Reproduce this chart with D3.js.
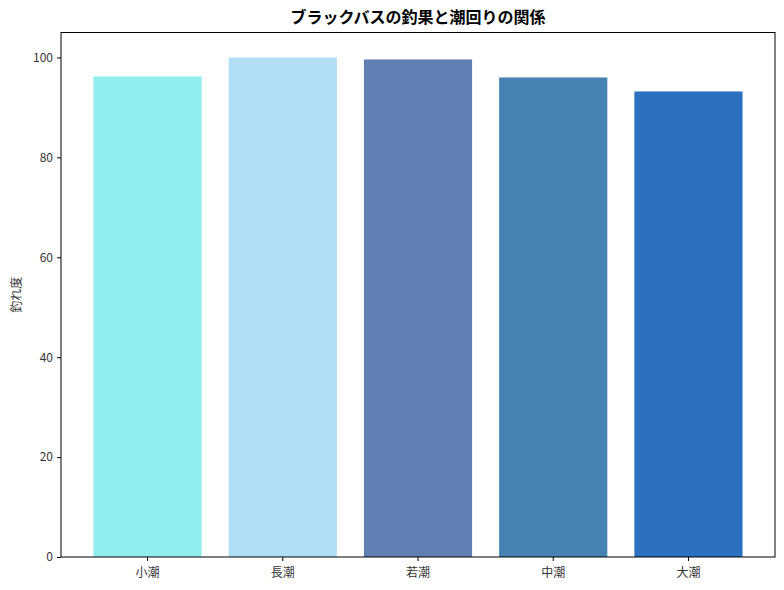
<!DOCTYPE html>
<html>
<head>
<meta charset="utf-8">
<script src="https://cdn.jsdelivr.net/npm/d3@7"></script>
<style>
  body { margin: 0; background: #fff; }
  text { font-family: "Noto Sans CJK JP", sans-serif; }
</style>
</head>
<body>
<svg id="chart" width="784" height="590"></svg>
<script>
const categories = ["小潮", "長潮", "若潮", "中潮", "大潮"];
const values = [96.2, 100, 99.6, 96.0, 93.2];
const colors = ["#92eeee", "#b0def5", "#607fb3", "#4682b4", "#2c70c0"];
const yTicks = [0, 20, 40, 60, 80, 100];

const svg = d3.select("#chart"),
  width = +svg.attr("width"),
  height = +svg.attr("height"),
  margin = { top: 32.5, right: 9, bottom: 33, left: 61 };

const chartWidth = width - margin.left - margin.right;
const chartHeight = height - margin.top - margin.bottom;

const g = svg
  .append("g")
  .attr("transform", `translate(${margin.left},${margin.top})`);

const x = d3
  .scaleBand()
  .domain(categories)
  .range([0, chartWidth])
  .paddingInner(0.2)
  .paddingOuter(0.24);

const y = d3.scaleLinear().domain([0, 105]).range([chartHeight, 0]);

// Bars
g.selectAll(".bar")
  .data(categories)
  .join("rect")
  .attr("class", "bar")
  .attr("x", (d) => x(d))
  .attr("y", (d, i) => y(values[i]))
  .attr("width", x.bandwidth())
  .attr("height", (d, i) => chartHeight - y(values[i]))
  .attr("fill", (d, i) => colors[i]);

// X axis
const xAxis = g
  .append("g")
  .attr("transform", `translate(0,${chartHeight})`)
  .call(d3.axisBottom(x).tickSize(4).tickPadding(7));
xAxis.select(".domain").remove();
xAxis.selectAll("text").style("font-size", "12px").attr("fill", "#333");

// Y axis
const yAxis = g
  .append("g")
  .call(d3.axisLeft(y).tickValues(yTicks).tickSize(4).tickPadding(4));
yAxis.select(".domain").remove();
yAxis.selectAll("text").style("font-size", "12px").attr("fill", "#333");

// Frame
g.append("rect")
  .attr("width", chartWidth)
  .attr("height", chartHeight)
  .attr("fill", "none")
  .attr("stroke", "black")
  .attr("stroke-width", 1);

// Y label
svg
  .append("text")
  .attr("transform", `translate(21,${margin.top + chartHeight / 2}) rotate(-90)`)
  .attr("text-anchor", "middle")
  .style("font-size", "12px")
  .attr("fill", "#333")
  .text("釣れ度");

// Title
svg
  .append("text")
  .attr("x", margin.left + chartWidth / 2)
  .attr("y", 23)
  .attr("text-anchor", "middle")
  .style("font-size", "16px")
  .style("font-weight", "bold")
  .text("ブラックバスの釣果と潮回りの関係");
</script>
</body>
</html>
